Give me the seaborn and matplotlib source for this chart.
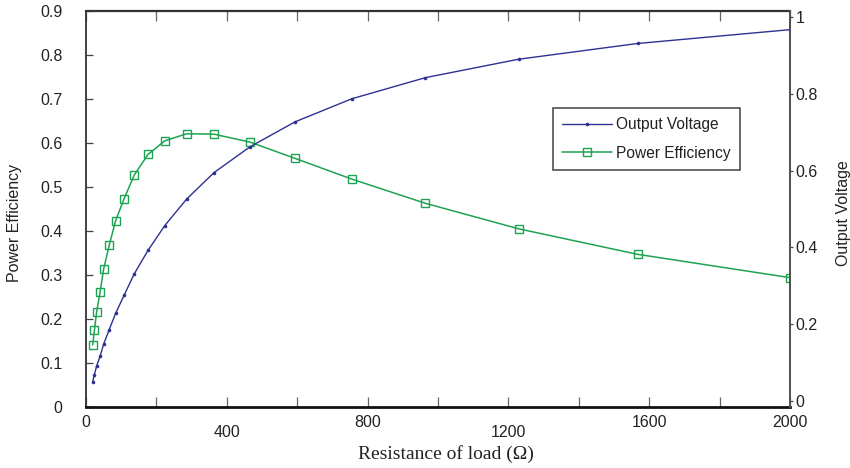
import matplotlib
matplotlib.use("Agg")
import matplotlib.pyplot as plt
from matplotlib.lines import Line2D
import numpy as np
import pandas as pd
import seaborn as sns

# Load resistance (ohm) at each measured point
resistance = [19, 24, 30, 40, 50, 66, 84, 108, 137, 176, 224, 286, 364, 466,
              594, 755, 964, 1229, 1567, 2000]
# Power efficiency (left axis)
efficiency = [0.141, 0.175, 0.215, 0.261, 0.313, 0.368, 0.423, 0.473, 0.527,
              0.574, 0.605, 0.621, 0.620, 0.602, 0.565, 0.518, 0.463, 0.405,
              0.347, 0.294]
# Output voltage (right axis)
voltage = [0.050, 0.069, 0.091, 0.116, 0.148, 0.186, 0.228, 0.275, 0.331,
           0.392, 0.457, 0.526, 0.595, 0.662, 0.727, 0.787, 0.842, 0.890,
           0.931, 0.967]

x_ticks = [0, 400, 800, 1200, 1600, 2000]
x_minor = [200, 600, 1000, 1400, 1800]
left_ticks = [0, 0.1, 0.2, 0.3, 0.4, 0.5, 0.6, 0.7, 0.8, 0.9]
left_labels = ["0", "0.1", "0.2", "0.3", "0.4", "0.5", "0.6", "0.7", "0.8", "0.9"]
right_ticks = [0, 0.2, 0.4, 0.6, 0.8, 1.0]
right_labels = ["0", "0.2", "0.4", "0.6", "0.8", "1"]

df = pd.DataFrame({"R": resistance, "eff": efficiency, "V": voltage})

sns.set_theme(style="white")
plt.rcParams["font.family"] = ["Liberation Sans", "DejaVu Sans"]

BLUE = "#2E3192"
GREEN = "#1DA352"

fig = plt.figure(figsize=(8.5, 4.68), dpi=100)
ax = fig.add_axes([86 / 850, 61 / 468, 704 / 850, 396 / 468])
ax2 = ax.twinx()

sns.lineplot(data=df, x="R", y="eff", ax=ax, color=GREEN, lw=1.1,
             marker="s", markersize=6, markerfacecolor="none",
             markeredgecolor=GREEN, markeredgewidth=1.0, sort=False)
sns.lineplot(data=df, x="R", y="V", ax=ax2, color=BLUE, lw=1.0,
             marker="o", markersize=2.6, markeredgewidth=0,
             markerfacecolor=BLUE, sort=False)

ax.set_xlim(0, 2000)
ax.set_ylim(0, 0.9)
ax2.set_ylim(-0.0156, 1.0156)

# x axis: labelled ticks every 400, unlabelled ones in between
ax.set_xticks(x_ticks)
ax.set_xticks(x_minor, minor=True)
ax.tick_params(axis="x", which="both", direction="in", length=7, width=0.9,
               color="#666666", top=True, bottom=True, labelsize=11.5, pad=6,
               labelcolor="#222222")
ax.set_yticks(left_ticks)
ax.set_yticklabels(left_labels)
ax.tick_params(axis="y", which="both", direction="in", length=5, width=0.9,
               color="#444444", left=True, right=False, labelsize=11.5, pad=17,
               labelcolor="#222222")
ax2.set_yticks(right_ticks)
ax2.set_yticklabels(right_labels)
ax2.tick_params(axis="y", direction="out", length=2.5, width=0.9,
                color="#444444", right=True, labelsize=11.5, pad=1.5,
                labelcolor="#222222")
ax2.grid(False)
ax.grid(False)

# staggered tick label heights
for i, lab in enumerate(ax.get_xticklabels()):
    if x_ticks[i] in (400, 1200):
        lab.set_y(-0.025)

for a in (ax, ax2):
    for side in ("top", "bottom", "left", "right"):
        a.spines[side].set_visible(True)
ax.spines["top"].set_color("#333333")
ax.spines["top"].set_linewidth(1.6)
ax.spines["bottom"].set_color("#111111")
ax.spines["bottom"].set_linewidth(2.0)
ax.spines["left"].set_color("#333333")
ax.spines["left"].set_linewidth(1.3)
ax2.spines["right"].set_color("#555555")
ax2.spines["right"].set_linewidth(1.3)
ax2.spines["left"].set_visible(False)
ax2.spines["top"].set_visible(False)
ax2.spines["bottom"].set_visible(False)

ax.set_xlabel("Resistance of load (\u03a9)", family=["Liberation Serif", "DejaVu Serif"],
              fontsize=14, color="#222222")
ax.xaxis.set_label_coords(0.511, -0.097)
ax.set_ylabel("Power Efficiency", fontsize=11.5, color="#222222")
ax.yaxis.set_label_coords(-0.091, 0.466)
ax2.set_ylabel("Output Voltage", fontsize=11.5, color="#222222")
ax2.yaxis.set_label_coords(1.065, 0.49)

handles = [
    Line2D([], [], color=BLUE, lw=1.0, marker="o", markersize=2.6,
           markeredgewidth=0),
    Line2D([], [], color=GREEN, lw=1.1, marker="s", markersize=6,
           markerfacecolor="none", markeredgecolor=GREEN, markeredgewidth=1.0),
]
leg = fig.legend(handles, ["Output Voltage", "Power Efficiency"],
                 loc="upper left", bbox_to_anchor=(553 / 850, 1 - 108 / 468),
                 bbox_transform=fig.transFigure, frameon=True, fancybox=False,
                 edgecolor="#111111", fontsize=11.2, handlelength=3.2,
                 handletextpad=0.25, labelspacing=0.85, borderpad=0.6,
                 borderaxespad=0)
leg.get_frame().set_linewidth(1.1)
for t in leg.get_texts():
    t.set_color("#222222")

fig.savefig("out.png", dpi=100)
